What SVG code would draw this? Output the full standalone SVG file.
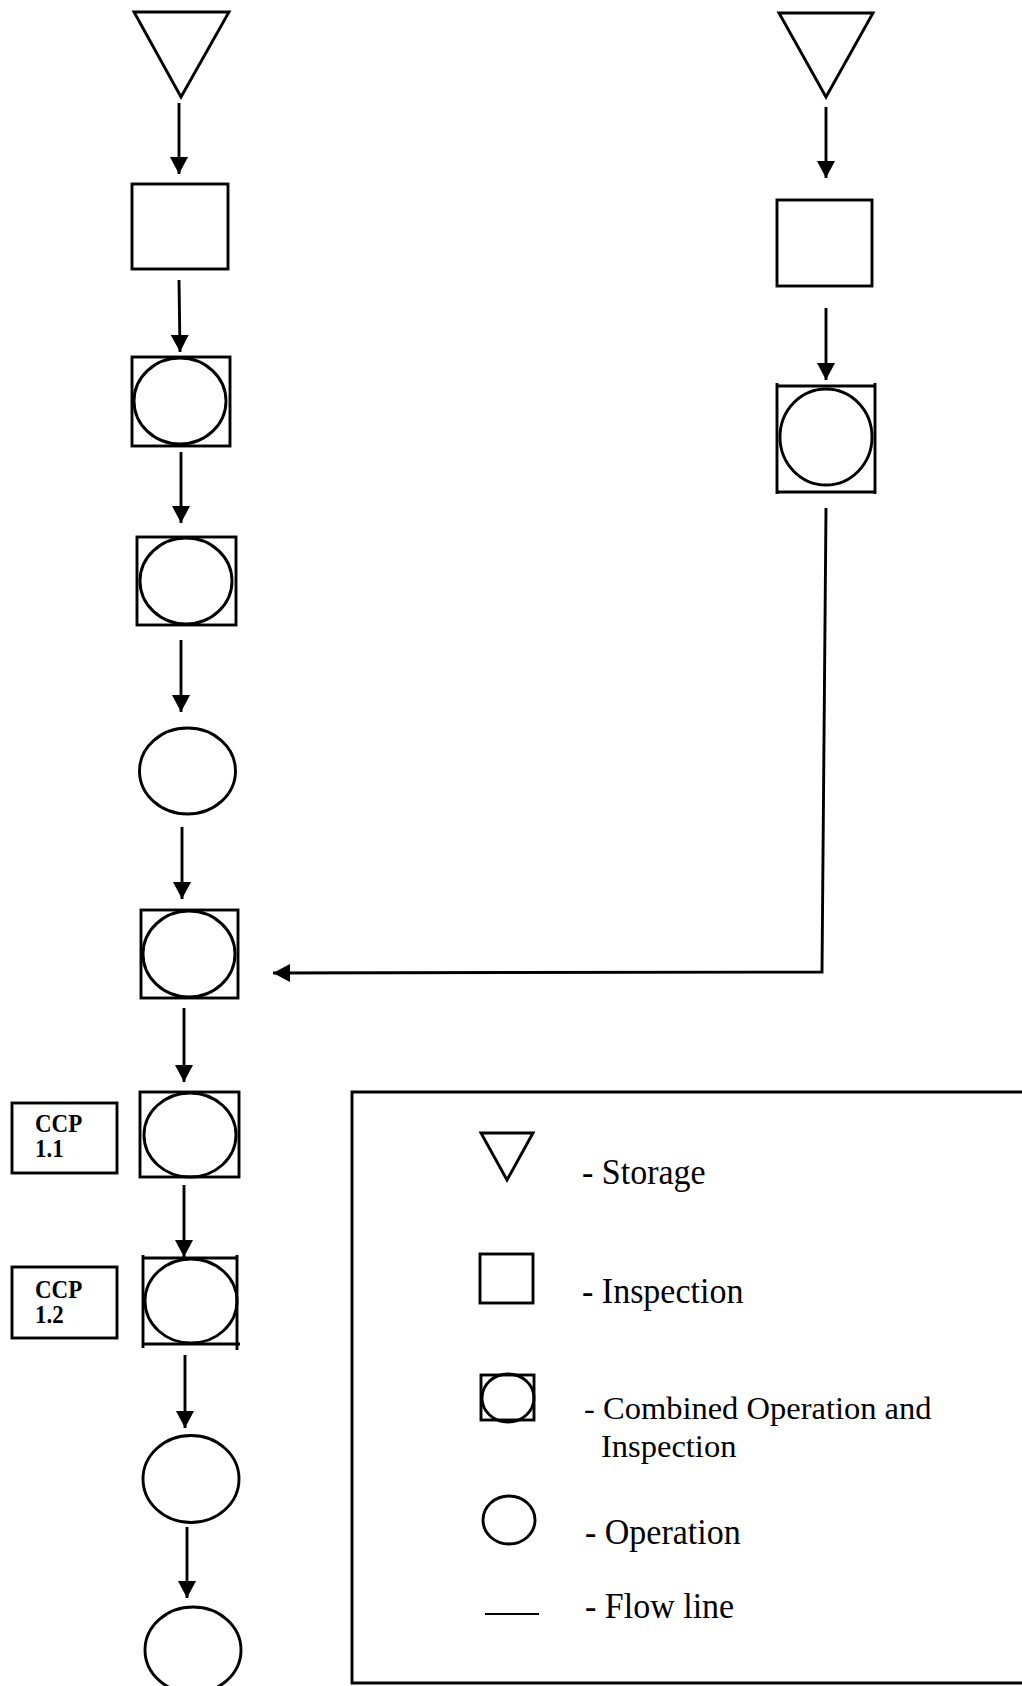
<svg xmlns="http://www.w3.org/2000/svg" width="1022" height="1686" viewBox="0 0 1022 1686">
<style>
.s{fill:none;stroke:#000;stroke-width:2.9}
.c{fill:none;stroke:#000;stroke-width:2.9}
.ln{fill:none;stroke:#000;stroke-width:2.9}
.lg{font-family:"Liberation Serif","Times New Roman",serif;font-size:34px;fill:#000}
.cp{font-family:"Liberation Serif","Times New Roman",serif;font-size:23px;font-weight:bold;fill:#000}
</style>
<defs>
<marker id="ah" viewBox="0 0 17 18" refX="17" refY="9" markerWidth="17" markerHeight="18" markerUnits="userSpaceOnUse" orient="auto">
<path d="M0,0 L17,9 L0,18 z" fill="#000"/>
</marker>
</defs>
<rect width="1022" height="1686" fill="#fff"/>

<g id="storage-left"><polygon class="s" points="134,12 229,12 181,97"/></g>
<g id="inspection-left"><rect class="s" x="132" y="184" width="96" height="85"/></g>
<g id="combined-1"><rect class="s" x="132" y="357" width="98" height="89"/><ellipse class="c" cx="180" cy="401" rx="46" ry="43"/></g>
<g id="combined-2"><rect class="s" x="137" y="537" width="99" height="88"/><ellipse class="c" cx="186" cy="581" rx="46" ry="43"/></g>
<g id="operation-1"><ellipse class="c" cx="187.5" cy="771" rx="48" ry="43"/></g>
<g id="combined-3"><rect class="s" x="141" y="910" width="97" height="88"/><ellipse class="c" cx="189" cy="954" rx="46" ry="43"/></g>
<g id="combined-4"><rect class="s" x="140" y="1092" width="99" height="85"/><ellipse class="c" cx="190" cy="1135" rx="46" ry="42"/></g>
<g id="combined-5"><path class="s" d="M143,1255 V1348 M237,1255 V1350 M143,1258 H237 M143,1344 H240"/><ellipse class="c" cx="191" cy="1301" rx="46" ry="42"/></g>
<g id="operation-2"><ellipse class="c" cx="191" cy="1479" rx="48" ry="43.5"/></g>
<g id="operation-3"><ellipse class="c" cx="193" cy="1650" rx="48" ry="43"/></g>

<g id="storage-right"><polygon class="s" points="779,13 873,13 826,97"/></g>
<g id="inspection-right"><rect class="s" x="777" y="200" width="95" height="86"/></g>
<g id="combined-right"><path class="s" d="M777,383 V494 M875,383 V494 M777,386 H875 M778,492 H875"/><ellipse class="c" cx="826" cy="437" rx="46" ry="48"/></g>

<g id="ccp-1-1"><rect class="s" x="12" y="1103" width="105" height="70"/>
<text class="cp" transform="translate(35,1132) scale(1,1.08)">CCP</text>
<text class="cp" transform="translate(35,1157) scale(1,1.08)">1.1</text></g>
<g id="ccp-1-2"><rect class="s" x="12" y="1267" width="105" height="71"/>
<text class="cp" transform="translate(35,1298) scale(1,1.08)">CCP</text>
<text class="cp" transform="translate(35,1323) scale(1,1.08)">1.2</text></g>

<g id="connectors">
<path class="ln" d="M179,103 V174" marker-end="url(#ah)"/>
<path class="ln" d="M179,280 L180,352" marker-end="url(#ah)"/>
<path class="ln" d="M181,452 V523" marker-end="url(#ah)"/>
<path class="ln" d="M181,640 V712" marker-end="url(#ah)"/>
<path class="ln" d="M182,827 V899" marker-end="url(#ah)"/>
<path class="ln" d="M184,1008 V1082" marker-end="url(#ah)"/>
<path class="ln" d="M184,1185 V1257" marker-end="url(#ah)"/>
<path class="ln" d="M185,1355 V1428" marker-end="url(#ah)"/>
<path class="ln" d="M187,1527 V1598" marker-end="url(#ah)"/>
<path class="ln" d="M826,107 V178" marker-end="url(#ah)"/>
<path class="ln" d="M826,308 V380" marker-end="url(#ah)"/>
<path class="ln" d="M826,508 L822,972 L273,973" marker-end="url(#ah)"/>
</g>

<g id="legend">
<path class="s" d="M1022,1092 H352 V1683 H1022"/>
<polygon class="s" points="481,1133 533,1133 507,1180"/>
<text class="lg" transform="translate(582,1184) scale(1,1.08)">- Storage</text>
<rect class="s" x="480" y="1254" width="53" height="49"/>
<text class="lg" transform="translate(582,1303) scale(1,1.08)">- Inspection</text>
<rect class="s" x="481" y="1375" width="53" height="45"/>
<ellipse class="c" cx="508" cy="1398" rx="26" ry="24"/>
<text class="lg" x="584" y="1419" style="font-size:32.5px">- Combined Operation and</text>
<text class="lg" x="601" y="1457" style="font-size:32.5px">Inspection</text>
<ellipse class="c" cx="509" cy="1520" rx="26" ry="24"/>
<text class="lg" transform="translate(585,1544) scale(1,1.08)">- Operation</text>
<path class="ln" d="M485,1614 H539" style="stroke-width:2"/>
<text class="lg" transform="translate(585,1618) scale(1,1.08)">- Flow line</text>
</g>
</svg>
